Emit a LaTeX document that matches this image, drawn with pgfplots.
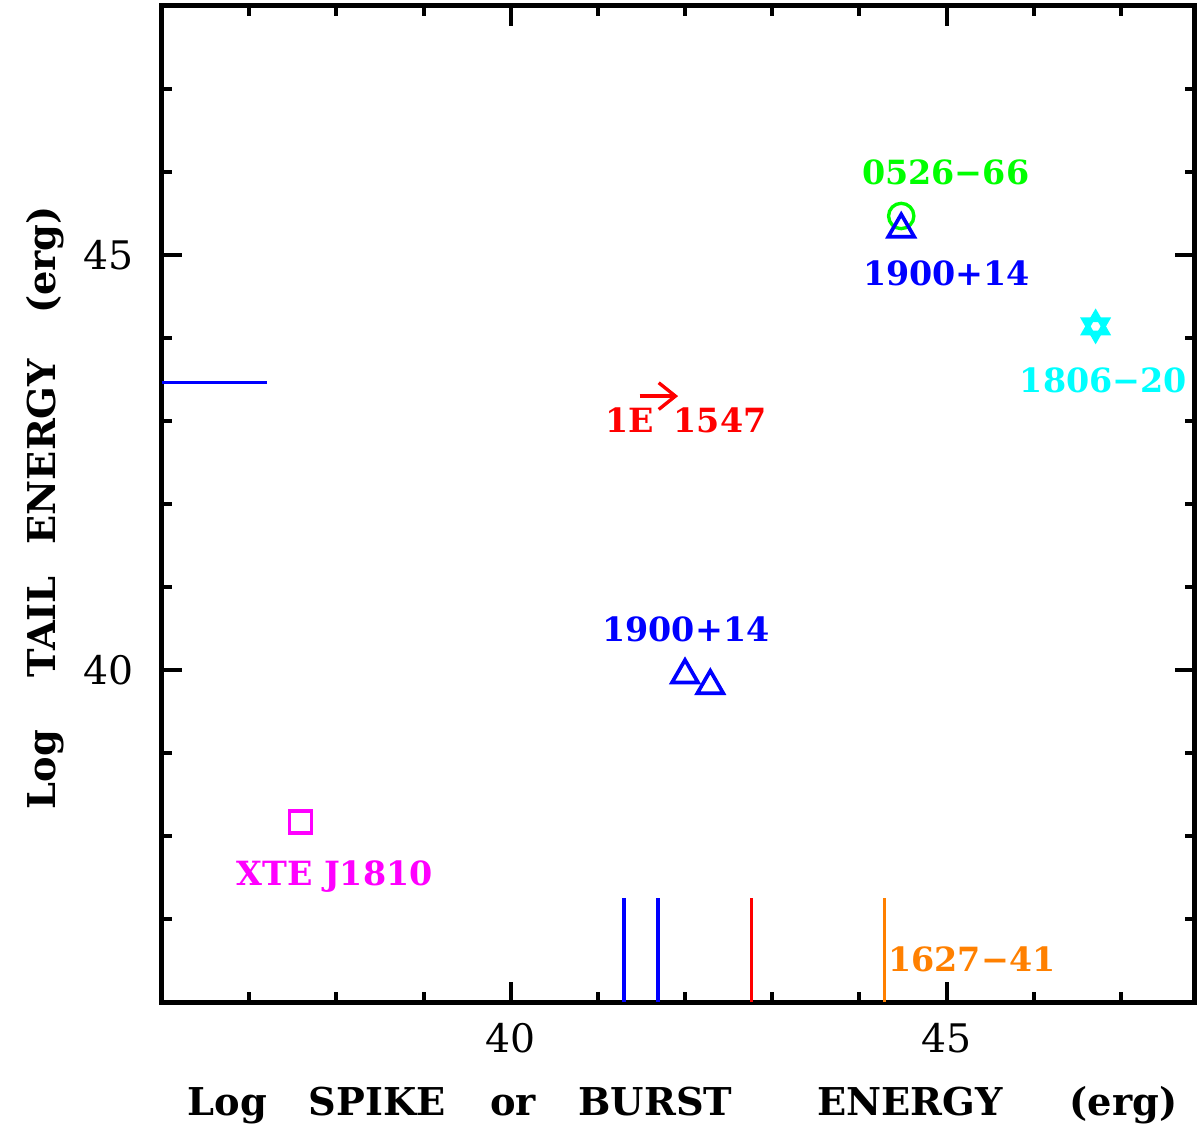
\documentclass[border=0pt]{standalone}
\usepackage{fontspec}
\setmainfont{DejaVu Serif}
\usepackage{pgfplots}
\pgfplotsset{compat=1.18}
\usetikzlibrary{arrows.meta}

\definecolor{pgGreen}{RGB}{0,255,0}
\definecolor{pgBlue}{RGB}{0,0,255}
\definecolor{pgCyan}{RGB}{0,255,255}
\definecolor{pgRed}{RGB}{255,0,0}
\definecolor{pgMagenta}{RGB}{255,0,255}
\definecolor{pgOrange}{RGB}{255,128,0}

\newcommand{\lbl}{\fontsize{10}{12}\selectfont\bfseries}
\newcommand{\axl}{\fontsize{11.5}{13}\selectfont\bfseries}

\begin{document}
\begin{tikzpicture}
\begin{axis}[
  at={(0,0)}, anchor=south west,
  scale only axis, width=309.9pt, height=298.8pt,
  xmin=36, xmax=47.85, ymin=36, ymax=48,
  xtick={40,45}, ytick={40,45},
  minor xtick={37,38,39,41,42,43,44,46,47},
  minor ytick={37,38,39,41,42,43,44,46,47},
  tick align=inside,
  major tick length=6pt, minor tick length=3pt,
  every tick/.style={black, line width=1.2pt},
  axis line style={line width=1.5pt},
  /pgf/number format/assume math mode=true,
  ticklabel style={font=\fontsize{11.8}{13}\selectfont},
  xticklabel style={yshift=-3pt},
  yticklabel style={xshift=-5pt},
  clip=false,
]

% 0526-66
\addplot[only marks, pgGreen, line width=1pt, mark=o, mark size=3.8pt]
  coordinates {(44.48,45.47)};
% 1900+14 giant flare
\addplot[only marks, pgBlue, line width=1.1pt, mark=triangle, mark size=4.5pt]
  coordinates {(44.48,45.31)};
% 1900+14 bursts
\addplot[only marks, pgBlue, line width=1.1pt, mark=triangle, mark size=4.5pt]
  coordinates {(42.00,39.94) (42.29,39.81)};
% 1806-20 (hexagram from two triangles)
\addplot[only marks, pgCyan, line width=1.4pt, mark=triangle, mark size=4pt]
  coordinates {(46.71,44.14)};
\addplot[only marks, pgCyan, line width=1.4pt, mark=triangle, mark size=4pt,
  mark options={rotate=180}]
  coordinates {(46.71,44.14)};
% XTE J1810
\addplot[only marks, pgMagenta, line width=1.1pt, mark=square, mark size=3.3pt]
  coordinates {(37.59,38.17)};
% 1E 1547 lower limit
\addplot[pgRed, line width=1pt, -{Straight Barb[length=5pt,width=8pt]}]
  coordinates {(41.48,43.30) (41.92,43.30)};
% tail-only level
\addplot[pgBlue, line width=0.9pt] coordinates {(36,43.46) (37.21,43.46)};
% burst-only energies
\addplot[pgBlue, line width=1.2pt] coordinates {(41.30,36) (41.30,37.25)};
\addplot[pgBlue, line width=1.2pt] coordinates {(41.69,36) (41.69,37.25)};
\addplot[pgRed, line width=0.8pt] coordinates {(42.76,36) (42.76,37.25)};
\addplot[pgOrange, line width=1pt] coordinates {(44.29,36) (44.29,37.25)};

% source names
\node[pgGreen, font=\lbl] at (axis cs:44.99,45.99) {0526−66};
\node[pgBlue, font=\lbl] at (axis cs:45.00,44.78) {1900+14};
\node[pgCyan, font=\lbl] at (axis cs:46.80,43.49) {1806−20};
\node[pgRed, font=\lbl] at (axis cs:42.01,43.01) {1E\hspace{0.6em}1547};
\node[pgBlue, font=\lbl] at (axis cs:42.01,40.49) {1900+14};
\node[pgMagenta, font=\lbl] at (axis cs:37.98,37.51) {XTE J1810};
\node[pgOrange, font=\lbl] at (axis cs:45.29,36.51) {1627−41};

% axis titles, word by word
\node[font=\axl, anchor=base] at (axis cs:36.75,34.63) {Log};
\node[font=\axl, anchor=base] at (axis cs:38.47,34.63) {SPIKE};
\node[font=\axl, anchor=base] at (axis cs:40.03,34.63) {or};
\node[font=\axl, anchor=base] at (axis cs:41.66,34.63) {BURST};
\node[font=\axl, anchor=base] at (axis cs:44.58,34.63) {ENERGY};
\node[font=\axl, anchor=base] at (axis cs:47.03,34.63) {(erg)};

\node[font=\axl, anchor=base, rotate=90] at (axis cs:34.78,38.80) {Log};
\node[font=\axl, anchor=base, rotate=90] at (axis cs:34.78,40.52) {TAIL};
\node[font=\axl, anchor=base, rotate=90] at (axis cs:34.78,42.63) {ENERGY};
\node[font=\axl, anchor=base, rotate=90] at (axis cs:34.78,44.94) {(erg)};
\end{axis}
\pgfresetboundingbox
\path[use as bounding box]
  ([xshift=-48.6pt,yshift=-36.9pt]current axis.south west)
  rectangle ([xshift=0.6pt,yshift=1.8pt]current axis.north east);
\end{tikzpicture}
\end{document}
